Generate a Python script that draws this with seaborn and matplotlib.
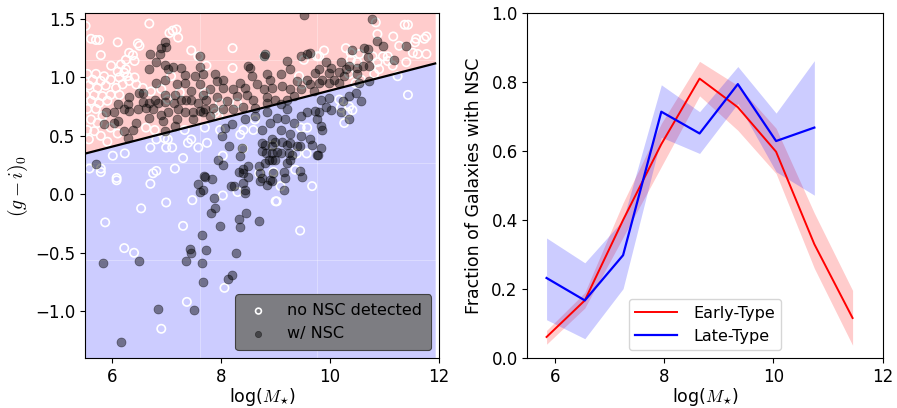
import numpy as np
import pandas as pd
import matplotlib
matplotlib.use("Agg")
import matplotlib.pyplot as plt
import seaborn as sns

plt.rcParams['font.family'] = ['DejaVu Sans']
plt.rcParams['mathtext.fontset'] = 'cm'

# ---------------- Left panel data: colour vs stellar mass ----------------
no_nsc_x = [5.87, 6.22, 6.40, 6.53, 6.90, 6.99, 7.30, 7.37, 7.47, 8.06, 9.00, 9.45,
            5.58, 5.79, 5.79, 6.01, 6.23, 6.08, 6.08, 6.70, 6.99, 7.10, 7.39, 7.58, 7.30, 7.15,
            6.75, 6.81, 6.70, 6.81, 7.02,
            7.74, 8.03, 8.40, 8.70, 8.30, 8.03, 8.96, 9.09, 9.02, 9.36, 9.67, 9.39, 9.57, 8.95,
            5.54, 5.70, 5.85, 5.64, 5.79, 5.97, 6.13, 6.22, 5.57, 5.73, 5.88, 6.07, 6.19, 6.31,
            6.41, 5.51, 5.67, 5.82, 5.97, 6.13, 5.61, 5.76, 5.91, 5.54, 5.70, 5.82, 5.61, 5.73,
            5.54, 5.67, 5.79, 5.57, 5.97, 6.10, 5.91, 6.28, 6.44, 6.56, 6.71, 6.90, 7.08, 7.02,
            7.24, 6.62, 6.78, 6.96, 7.33, 7.45, 6.41, 6.25, 6.10,
            5.51, 5.76, 5.70, 5.61, 6.10, 6.68, 7.11, 7.18, 7.05, 7.21, 6.47, 6.50, 5.79, 6.31,
            6.38, 6.25, 6.16, 5.98, 7.45, 7.58,
            8.21, 8.79, 7.73, 8.21, 9.52, 9.76, 9.43, 9.49, 7.70, 7.98, 8.29, 7.89, 7.95, 7.70,
            8.41, 8.62, 8.59, 8.35, 7.98, 9.46, 9.58,
            10.84, 11.37, 11.43, 10.87, 11.16, 11.27, 11.58, 11.77, 9.89, 10.29, 10.38, 10.54,
            10.78, 10.97, 11.06, 11.52, 11.61, 11.77, 10.38, 10.50, 10.87, 10.90, 11.06, 11.40,
            11.15, 9.80, 10.35, 10.81, 10.57, 10.47, 11.24, 11.43, 10.35, 10.20, 10.17, 10.26,
            10.32, 10.41, 8.81, 11.56, 11.73]
no_nsc_y = [-0.24, -0.46, -0.50, -0.12, -1.15, -0.07, -0.27, -0.92, -0.05, -0.80, -0.06, -0.31,
            0.22, 0.22, 0.19, 0.33, 0.35, 0.14, 0.12, 0.40, 0.40, 0.40, 0.44, 0.40, 0.31, 0.22,
            0.18, 0.20, 0.09, 0.47, 0.47,
            0.44, 0.33, 0.39, 0.18, 0.02, -0.01, 0.19, 0.07, -0.06, 0.21, 0.07, 0.35, 0.35, 0.42,
            1.03, 1.03, 1.01, 0.98, 0.97, 0.98, 1.00, 1.04, 0.93, 0.91, 0.93, 0.91, 0.94, 0.97,
            1.00, 0.85, 0.85, 0.84, 0.85, 0.85, 0.80, 0.78, 0.80, 0.73, 0.73, 0.67, 0.64, 0.61,
            0.55, 0.54, 0.50, 0.47, 0.57, 0.52, 0.45, 1.01, 0.94, 0.91, 0.88, 0.90, 1.01, 0.81,
            0.87, 0.57, 0.55, 0.48, 0.55, 0.47, 1.14, 1.07, 1.05,
            1.44, 1.32, 1.32, 1.33, 1.30, 1.46, 1.40, 1.41, 1.38, 1.34, 1.29, 1.27, 1.19, 1.21,
            1.19, 1.15, 1.11, 1.10, 1.23, 1.18,
            1.25, 1.18, 1.10, 1.08, 1.15, 1.18, 1.01, 0.94, 0.87, 0.78, 0.78, 0.70, 0.67, 0.57,
            0.55, 0.64, 0.55, 0.51, 0.55, 0.57, 0.57,
            1.47, 1.45, 1.45, 1.37, 1.35, 1.27, 1.33, 1.35, 1.23, 1.25, 1.21, 1.20,
            1.18, 1.18, 1.18, 1.21, 1.20, 1.20, 1.15, 1.13, 1.13, 1.07, 1.14, 1.13,
            1.10, 1.18, 1.03, 1.03, 0.98, 0.95, 1.01, 0.85, 0.75, 0.74, 0.81, 0.61,
            0.70, 0.72, 1.19, 1.30, 1.33]

nsc_x = [5.83, 6.16, 6.49, 6.84, 7.50, 7.36, 7.42, 7.45, 7.64, 7.64, 7.67, 7.72, 7.82, 7.88,
         7.98, 8.13, 8.20, 8.28, 8.32, 8.35, 8.46, 8.69,
         5.70, 7.57, 7.61, 7.67, 7.69,
         8.14, 8.39, 8.35, 7.95, 8.03, 7.70, 7.84, 7.87, 8.18, 8.24, 8.41, 8.44, 8.43, 8.33,
         8.41, 8.50, 8.49, 8.41, 8.69, 8.71, 8.75, 8.72, 8.75, 8.81, 8.75, 8.83, 8.93, 9.02,
         9.09, 8.87, 8.93, 8.99, 8.81, 8.93, 8.99, 9.12, 9.21, 9.27, 9.39, 9.45, 9.67, 9.76,
         9.24, 9.30, 8.84, 8.90, 8.93, 8.96, 9.15, 9.18, 9.15, 9.21, 9.27, 9.45, 9.49,
         9.83, 9.78,
         6.96, 6.98, 6.90, 6.70, 6.87, 6.81, 6.96, 7.11, 7.26, 7.02, 6.68, 7.33, 7.52, 7.61,
         6.81, 6.96, 7.18, 7.33, 7.61, 7.45, 7.15, 6.96, 6.50, 6.56, 6.31, 6.28, 6.10, 6.56,
         6.68, 6.78, 6.84, 6.96, 7.14, 7.26, 7.36, 7.45, 7.57, 7.67, 5.88, 6.04, 6.22, 6.31,
         6.47, 6.62, 6.74, 6.90, 7.02, 7.21, 7.33, 7.48, 7.61, 6.10, 6.44, 6.68, 6.93, 7.18,
         7.48, 5.85, 6.04, 6.22, 6.38, 6.96, 7.15, 6.28,
         9.52, 9.64, 9.57, 9.46, 8.78, 8.81, 9.21, 8.50, 8.53, 7.61, 7.67, 7.89, 8.04, 7.92,
         8.35, 8.56, 8.84, 8.90, 9.09, 9.27, 9.39, 9.58, 9.73, 9.64, 7.79, 8.04, 8.22, 8.44,
         8.66, 8.78, 8.93, 9.12, 9.27, 9.46, 9.70, 7.73, 7.92, 8.10, 8.29, 8.47, 8.59, 8.84,
         8.99, 9.21, 9.33, 7.70, 7.85, 8.04, 8.22, 8.41, 8.62, 8.84, 9.09, 7.67, 7.79, 8.07,
         8.19, 8.44, 8.62, 8.84, 8.90, 9.03, 9.21, 9.18, 9.33, 9.46, 9.58, 9.73, 8.75, 9.09,
         9.27, 9.46, 9.64, 8.93, 8.01,
         10.77, 10.41, 10.63, 10.69, 10.87, 10.97, 11.40, 10.69, 10.60, 10.72, 11.18, 9.92,
         10.01, 10.20, 10.35, 10.50, 9.80, 9.98, 10.17, 10.29, 10.50, 9.86, 10.07, 10.26,
         9.80, 9.98, 10.17, 10.54, 10.72, 9.83, 9.98, 10.01, 9.92, 10.35, 10.47, 10.57,
         10.23, 10.20, 10.35, 9.80, 9.83, 9.86, 9.76]
nsc_y = [-0.59, -1.26, -0.57, -0.98, -0.99, -0.57, -0.47, -0.50, -0.35, -0.59, -0.75, -0.48,
         -0.16, -0.12, -0.27, -0.72, -0.69, -0.50, -0.21, -0.28, -0.16, -0.23,
         0.26, 0.09, 0.02, 0.04, 0.16,
         0.41, 0.40, 0.33, 0.29, 0.25, 0.15, 0.13, -0.03, 0.07, 0.07, 0.10, 0.04, 0.01, 0.19,
         0.22, 0.24, 0.15, 0.18, 0.24, 0.18, 0.14, 0.11, 0.44, 0.42, 0.37, 0.35, 0.35, 0.36,
         0.35, 0.29, 0.29, 0.29, 0.27, 0.41, 0.45, 0.45, 0.42, 0.44, 0.41, 0.41, 0.42, 0.34,
         0.35, 0.34, 0.08, 0.12, 0.11, 0.18, 0.19, 0.14, 0.04, 0.27, 0.29, 0.20, 0.15,
         0.40, 0.34,
         1.30, 1.26, 1.25, 1.20, 1.20, 1.13, 1.11, 1.09, 1.08, 1.07, 1.07, 1.02, 1.01, 1.09,
         0.95, 0.98, 0.94, 0.95, 0.94, 0.88, 0.85, 0.85, 0.87, 0.87, 0.83, 0.77, 0.77, 0.79,
         0.78, 0.81, 0.78, 0.79, 0.78, 0.81, 0.81, 0.81, 0.78, 0.85, 0.70, 0.70, 0.73, 0.71,
         0.73, 0.74, 0.73, 0.68, 0.70, 0.73, 0.70, 0.70, 0.71, 0.63, 0.61, 0.65, 0.63, 0.64,
         0.64, 0.60, 0.61, 0.54, 0.55, 0.54, 0.58, 0.48,
         1.53, 1.21, 1.20, 1.18, 1.18, 1.20, 1.14, 1.10, 1.08, 1.18, 1.03, 1.03, 0.98, 0.97,
         0.95, 1.01, 1.03, 0.98, 1.03, 1.07, 0.97, 0.98, 1.04, 0.94, 0.90, 0.91, 0.90, 0.91,
         0.94, 0.90, 0.91, 0.93, 0.90, 0.90, 0.88, 0.81, 0.83, 0.80, 0.84, 0.85, 0.81, 0.83,
         0.81, 0.81, 0.84, 0.73, 0.74, 0.73, 0.73, 0.75, 0.74, 0.78, 0.77, 0.70, 0.67, 0.57,
         0.60, 0.64, 0.67, 0.70, 0.61, 0.65, 0.73, 0.64, 0.61, 0.67, 0.70, 0.71, 0.55, 0.55,
         0.52, 0.50, 0.47, 0.47, 0.50,
         1.50, 1.23, 1.25, 1.24, 1.31, 1.27, 1.27, 1.17, 1.10, 1.10, 1.15, 1.13,
         1.08, 1.13, 1.10, 1.08, 1.07, 1.04, 1.05, 1.07, 1.03, 0.98, 0.98, 1.01,
         0.95, 0.95, 0.95, 0.95, 0.97, 0.81, 0.82, 0.72, 0.75, 0.84, 0.87, 0.80,
         0.80, 0.70, 0.64, 0.70, 0.58, 0.55, 0.64]

# red-sequence dividing line
divide_x = [5.5, 11.93]
divide_y = [0.348, 1.119]

# ---------------- Right panel data: NSC occupation fraction ----------------
mass_bins = [5.85, 6.55, 7.25, 7.95, 8.65, 9.35, 10.05, 10.75, 11.45]
early_frac = [0.061, 0.167, 0.40, 0.62, 0.810, 0.727, 0.598, 0.33, 0.116]
early_lo = [0.040, 0.145, 0.35, 0.555, 0.760, 0.660, 0.535, 0.26, 0.037]
early_hi = [0.080, 0.190, 0.45, 0.680, 0.860, 0.790, 0.666, 0.42, 0.196]

late_bins = [5.85, 6.55, 7.25, 7.95, 8.65, 9.35, 10.05, 10.75]
late_frac = [0.232, 0.167, 0.298, 0.714, 0.651, 0.794, 0.629, 0.668]
late_lo = [0.111, 0.056, 0.201, 0.640, 0.593, 0.738, 0.540, 0.472]
late_hi = [0.348, 0.276, 0.400, 0.792, 0.714, 0.845, 0.710, 0.862]

ylim_left = (-1.4, 1.55)

fig = plt.figure(figsize=(8.97, 4.08), dpi=100)
ax1 = fig.add_axes([0.0948, 0.1225, 0.3946, 0.8455])
ax2 = fig.add_axes([0.588, 0.1225, 0.396, 0.8455])

# ---- left panel ----
ax1.fill_between(divide_x, divide_y, ylim_left[1], color='red', alpha=0.2, lw=0, zorder=0)
ax1.fill_between(divide_x, ylim_left[0], divide_y, color='blue', alpha=0.2, lw=0, zorder=0)
for gx in [7.62, 9.76]:
    ax1.axvline(gx, color='white', lw=0.8, alpha=0.3, zorder=0.5)
for gy in [1.145, 0.27, -0.56]:
    ax1.axhline(gy, color='white', lw=0.8, alpha=0.3, zorder=0.5)

sns.scatterplot(x=no_nsc_x, y=no_nsc_y, ax=ax1, marker='o', s=36, color='white',
                facecolor='none', edgecolor='white', linewidth=1.2,
                label='no NSC detected', zorder=2)
sns.scatterplot(x=nsc_x, y=nsc_y, ax=ax1, marker='o', s=42, color='black',
                edgecolor='black', linewidth=0.5, alpha=0.45,
                label='w/ NSC', zorder=3)
sns.lineplot(x=divide_x, y=divide_y, ax=ax1, color='black', lw=1.6, zorder=4,
             errorbar=None, sort=False, legend=False)

ax1.set_xlim(5.5, 12)
ax1.set_ylim(*ylim_left)
ax1.set_xticks([6, 8, 10, 12])
ax1.set_yticks([-1.0, -0.5, 0.0, 0.5, 1.0, 1.5])
ax1.set_xlabel(r'log($M_{\star}$)', fontsize=12.5, labelpad=0)
ax1.set_ylabel(r'$(g-i)_0$', fontsize=14, labelpad=4)
ax1.tick_params(labelsize=12)
leg1 = ax1.legend(loc='lower right', fontsize=11.5, facecolor='#7d7d82', edgecolor='#404040',
                  framealpha=1.0, markerscale=0.7, handletextpad=0.9, borderpad=0.55,
                  handlelength=1.8)
leg1.get_frame().set_linewidth(0.8)
leg1.set_zorder(10)

# ---- right panel ----
ax2.fill_between(mass_bins, early_lo, early_hi, color='red', alpha=0.2, lw=0)
ax2.fill_between(late_bins, late_lo, late_hi, color='blue', alpha=0.2, lw=0)
sns.lineplot(x=mass_bins, y=early_frac, ax=ax2, color='red', lw=1.4,
             label='Early-Type', errorbar=None, sort=False)
sns.lineplot(x=late_bins, y=late_frac, ax=ax2, color='blue', lw=1.6,
             label='Late-Type', errorbar=None, sort=False)
ax2.set_xlim(5.5, 12)
ax2.set_ylim(0, 1.0)
ax2.set_xticks([6, 8, 10, 12])
ax2.set_yticks([0.0, 0.2, 0.4, 0.6, 0.8, 1.0])
ax2.set_xlabel(r'log($M_{\star}$)', fontsize=12.5, labelpad=0)
ax2.set_ylabel('Fraction of Galaxies with NSC', fontsize=12.5, labelpad=6)
ax2.tick_params(labelsize=12)
ax2.legend(loc='lower center', fontsize=11.5, handlelength=2.6, handletextpad=1.0)

fig.savefig('out.png', dpi=100)
